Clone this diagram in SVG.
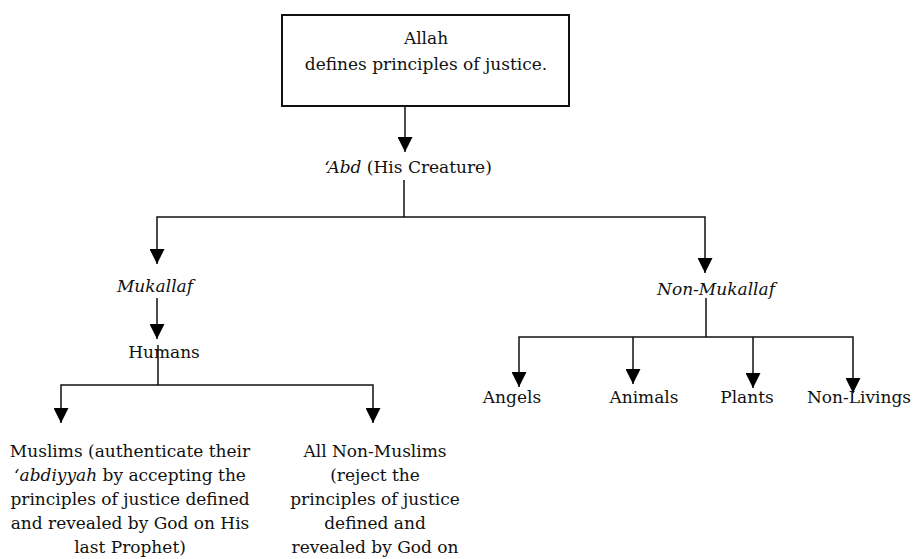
<svg xmlns="http://www.w3.org/2000/svg" width="915" height="559" viewBox="0 0 915 559">
<style>
text{font-family:"DejaVu Serif","Liberation Serif",serif;font-size:17px;fill:#111;text-anchor:middle}
.it{font-style:italic}
.c{fill:none;stroke:#111;stroke-width:1.5}
.box{fill:#fff;stroke:#111;stroke-width:2}
</style>
<defs>
<marker id="ah" viewBox="0 0 15 15" refX="15" refY="7.5" markerWidth="15" markerHeight="15" markerUnits="userSpaceOnUse" orient="auto"><path d="M0,0 L15,7.5 L0,15 z" fill="#000"/></marker>
</defs>
<rect width="915" height="559" fill="#fff"/>
<g id="connectors">
<path class="c" d="M405,106 V152" marker-end="url(#ah)"/>
<path class="c" d="M404,180 V217"/>
<path class="c" d="M404,217 H157 V264" marker-end="url(#ah)"/>
<path class="c" d="M404,217 H705 V273" marker-end="url(#ah)"/>
<path class="c" d="M157,298 V339" marker-end="url(#ah)"/>
<path class="c" d="M158,345 V385"/>
<path class="c" d="M158,385 H61 V423" marker-end="url(#ah)"/>
<path class="c" d="M158,385 H373 V423" marker-end="url(#ah)"/>
<path class="c" d="M706,298 V337"/>
<path class="c" d="M706,337 H519 V387" marker-end="url(#ah)"/>
<path class="c" d="M633,337 V384" marker-end="url(#ah)"/>
<path class="c" d="M753,337 V388" marker-end="url(#ah)"/>
<path class="c" d="M706,337 H853 V393" marker-end="url(#ah)"/>
</g>
<g id="allah">
<rect class="box" x="282" y="15" width="287" height="91"/>
<text x="426" y="44">Allah</text>
<text x="426" y="70">defines principles of justice.</text>
</g>
<g id="abd"><text x="408" y="173"><tspan class="it">‘Abd</tspan> (His Creature)</text></g>
<g id="mukallaf"><text class="it" x="155" y="292">Mukallaf</text></g>
<g id="humans"><text x="164" y="358">Humans</text></g>
<g id="nonmukallaf"><text class="it" x="716" y="295">Non-Mukallaf</text></g>
<g id="angels"><text x="512" y="403">Angels</text></g>
<g id="animals"><text x="644" y="403">Animals</text></g>
<g id="plants"><text x="747" y="403">Plants</text></g>
<g id="nonlivings"><text x="859" y="403">Non-Livings</text></g>
<g id="muslims">
<text x="130" y="457">Muslims (authenticate their</text>
<text x="130" y="481"><tspan class="it">‘abdiyyah</tspan> by accepting the</text>
<text x="130" y="505">principles of justice defined</text>
<text x="130" y="529">and revealed by God on His</text>
<text x="130" y="553">last Prophet)</text>
</g>
<g id="nonmuslims">
<text x="375" y="457">All Non-Muslims</text>
<text x="375" y="481">(reject the</text>
<text x="375" y="505">principles of justice</text>
<text x="375" y="529">defined and</text>
<text x="375" y="553">revealed by God on</text>
</g>
</svg>
